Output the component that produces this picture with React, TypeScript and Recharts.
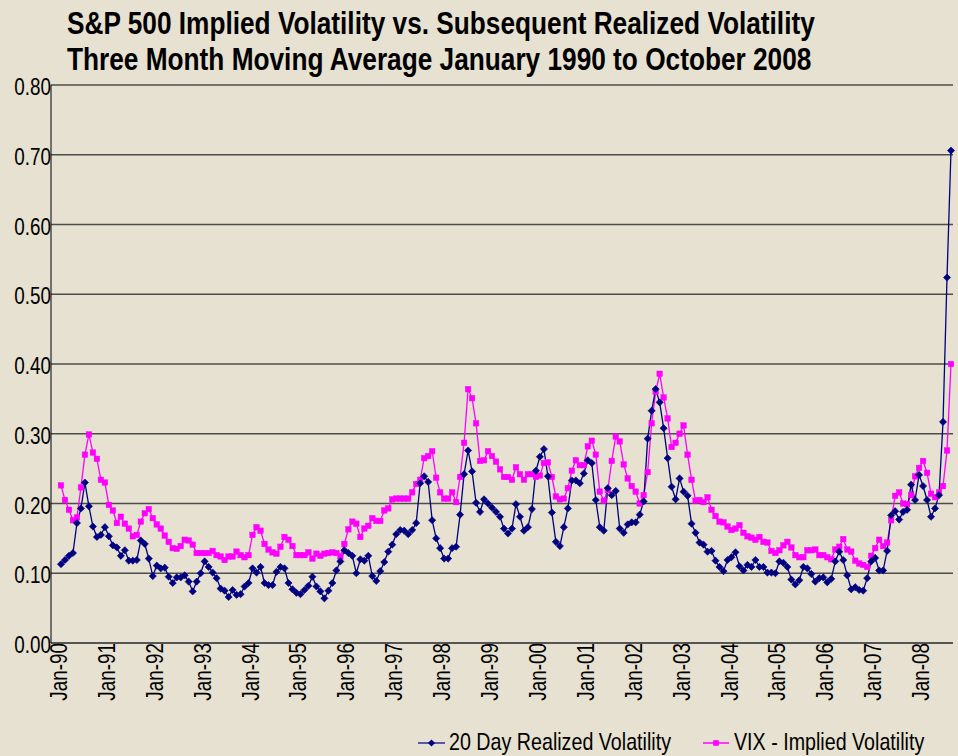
import React from 'react';
import { LineChart, Line, XAxis, YAxis, CartesianGrid } from 'recharts';

const FONT = "'Liberation Sans', Arial, sans-serif";
const NARROW = 0.82; // Liberation Sans squeezed horizontally to imitate Arial Narrow
const BG = '#E6E1D0';
const BLUE = '#000080';
const MAGENTA = '#FF00FF';

const titleLines = [
  'S&P 500 Implied Volatility vs. Subsequent Realized Volatility',
  'Three Month Moving Average January 1990 to October 2008',
];

const years = ['90', '91', '92', '93', '94', '95', '96', '97', '98', '99', '00', '01', '02', '03', '04', '05', '06', '07', '08'];
const months = ['Jan', 'Feb', 'Mar', 'Apr', 'May', 'Jun', 'Jul', 'Aug', 'Sep', 'Oct', 'Nov', 'Dec'];
const lastMonthOfFinalYear = 'Oct';

const seriesNames = ['20 Day Realized Volatility', 'VIX - Implied Volatility'];

// 20 Day Realized Volatility, three month moving average (Jan-90 .. Oct-08)
const realized: (number | null)[] = [
  null, null, 0.113, 0.119, 0.125, 0.129, 0.172, 0.193, 0.230, 0.196, 0.167, 0.152,
  0.155, 0.166, 0.153, 0.140, 0.137, 0.125, 0.133, 0.118, 0.118, 0.119, 0.147, 0.142,
  0.121, 0.096, 0.111, 0.107, 0.108, 0.095, 0.086, 0.094, 0.094, 0.097, 0.088, 0.074,
  0.088, 0.100, 0.117, 0.109, 0.101, 0.093, 0.078, 0.075, 0.066, 0.076, 0.069, 0.070,
  0.081, 0.086, 0.107, 0.101, 0.109, 0.086, 0.083, 0.083, 0.102, 0.109, 0.107, 0.086,
  0.077, 0.072, 0.070, 0.076, 0.082, 0.095, 0.081, 0.074, 0.064, 0.075, 0.086, 0.104,
  0.117, 0.133, 0.129, 0.125, 0.100, 0.120, 0.118, 0.125, 0.096, 0.089, 0.103, 0.116,
  0.131, 0.141, 0.156, 0.162, 0.161, 0.156, 0.162, 0.172, 0.229, 0.239, 0.231, 0.176,
  0.150, 0.136, 0.121, 0.121, 0.136, 0.138, 0.184, 0.242, 0.276, 0.246, 0.201, 0.188,
  0.206, 0.200, 0.194, 0.188, 0.181, 0.164, 0.157, 0.164, 0.199, 0.181, 0.161, 0.166,
  0.192, 0.247, 0.267, 0.278, 0.239, 0.187, 0.145, 0.139, 0.166, 0.193, 0.233, 0.233,
  0.229, 0.243, 0.262, 0.258, 0.205, 0.166, 0.161, 0.222, 0.212, 0.218, 0.164, 0.158,
  0.170, 0.173, 0.173, 0.184, 0.203, 0.293, 0.333, 0.364, 0.345, 0.308, 0.265, 0.224,
  0.206, 0.236, 0.217, 0.211, 0.171, 0.158, 0.144, 0.141, 0.131, 0.132, 0.118, 0.109,
  0.103, 0.119, 0.123, 0.130, 0.110, 0.104, 0.112, 0.109, 0.119, 0.109, 0.109, 0.101,
  0.101, 0.100, 0.117, 0.115, 0.109, 0.091, 0.084, 0.090, 0.109, 0.107, 0.099, 0.088,
  0.093, 0.094, 0.087, 0.092, 0.117, 0.131, 0.119, 0.097, 0.077, 0.080, 0.076, 0.075,
  0.093, 0.117, 0.122, 0.104, 0.104, 0.132, 0.183, 0.189, 0.177, 0.188, 0.191, 0.227,
  0.205, 0.241, 0.225, 0.205, 0.181, 0.193, 0.212, 0.317, 0.524, 0.706,
];

// VIX - Implied Volatility, three month moving average (Jan-90 .. Oct-08)
const implied: (number | null)[] = [
  null, null, 0.226, 0.205, 0.191, 0.176, 0.180, 0.223, 0.270, 0.299, 0.273, 0.264,
  0.234, 0.230, 0.198, 0.190, 0.172, 0.181, 0.171, 0.164, 0.153, 0.155, 0.174, 0.186,
  0.192, 0.179, 0.170, 0.164, 0.154, 0.145, 0.136, 0.135, 0.139, 0.148, 0.147, 0.141,
  0.129, 0.129, 0.129, 0.129, 0.132, 0.126, 0.124, 0.119, 0.124, 0.124, 0.131, 0.126,
  0.123, 0.126, 0.155, 0.166, 0.161, 0.142, 0.134, 0.130, 0.128, 0.138, 0.152, 0.148,
  0.139, 0.126, 0.126, 0.126, 0.130, 0.121, 0.128, 0.125, 0.128, 0.129, 0.130, 0.129,
  0.124, 0.142, 0.163, 0.174, 0.171, 0.152, 0.164, 0.168, 0.179, 0.175, 0.175, 0.190,
  0.193, 0.206, 0.207, 0.207, 0.207, 0.207, 0.216, 0.228, 0.234, 0.265, 0.268, 0.275,
  0.237, 0.216, 0.207, 0.207, 0.216, 0.202, 0.238, 0.287, 0.364, 0.351, 0.315, 0.261,
  0.262, 0.275, 0.268, 0.260, 0.249, 0.238, 0.238, 0.234, 0.252, 0.242, 0.234, 0.242,
  0.242, 0.238, 0.240, 0.258, 0.259, 0.238, 0.210, 0.206, 0.207, 0.222, 0.247, 0.262,
  0.255, 0.255, 0.282, 0.290, 0.270, 0.217, 0.204, 0.219, 0.261, 0.296, 0.289, 0.256,
  0.236, 0.225, 0.217, 0.200, 0.212, 0.245, 0.315, 0.360, 0.386, 0.352, 0.322, 0.281,
  0.287, 0.300, 0.312, 0.270, 0.234, 0.204, 0.205, 0.202, 0.209, 0.191, 0.182, 0.174,
  0.173, 0.167, 0.162, 0.164, 0.169, 0.158, 0.153, 0.151, 0.148, 0.152, 0.145, 0.144,
  0.132, 0.129, 0.133, 0.140, 0.145, 0.137, 0.126, 0.123, 0.123, 0.133, 0.133, 0.134,
  0.126, 0.126, 0.123, 0.120, 0.134, 0.138, 0.149, 0.134, 0.131, 0.118, 0.114, 0.112,
  0.109, 0.125, 0.136, 0.148, 0.139, 0.144, 0.176, 0.211, 0.216, 0.200, 0.199, 0.212,
  0.239, 0.251, 0.261, 0.244, 0.214, 0.209, 0.216, 0.225, 0.276, 0.400,
];

const yTicks = [0, 0.1, 0.2, 0.3, 0.4, 0.5, 0.6, 0.7, 0.8];

const categories: string[] = [];
years.forEach((y, yi) => {
  for (const m of months) {
    categories.push(`${m}-${y}`);
    if (yi === years.length - 1 && m === lastMonthOfFinalYear) break;
  }
});

const data = categories.map((month, i) => ({
  month,
  realized: realized[i] ?? null,
  implied: implied[i] ?? null,
}));

const DiamondDot = (props: any) => {
  const { cx, cy, index, value } = props;
  if (cx == null || cy == null || value == null || Number.isNaN(cy)) return <g key={`rd${index}`} />;
  const s = 3.6;
  return (
    <polygon
      key={`rd${index}`}
      points={`${cx},${cy - s} ${cx + s},${cy} ${cx},${cy + s} ${cx - s},${cy}`}
      fill={BLUE}
      stroke={BLUE}
      strokeWidth={0.6}
    />
  );
};

const SquareDot = (props: any) => {
  const { cx, cy, index, value } = props;
  if (cx == null || cy == null || value == null || Number.isNaN(cy)) return <g key={`id${index}`} />;
  const s = 2.8;
  return <rect key={`id${index}`} x={cx - s} y={cy - s} width={2 * s} height={2 * s} fill={MAGENTA} stroke={MAGENTA} strokeWidth={0.4} />;
};

const XTick = (props: any) => {
  const { x, y, payload } = props;
  const bx = x + 14;
  return (
    <text
      transform={`translate(${bx}, ${y}) rotate(-90) scale(${NARROW}, 1)`}
      textAnchor="end"
      fontFamily={FONT}
      fontSize={23}
      fill="#000"
    >
      {payload.value}
    </text>
  );
};

const YTick = (props: any) => {
  const { x, y, payload } = props;
  return (
    <text
      transform={`translate(${x}, ${y + 10}) scale(${NARROW}, 1)`}
      textAnchor="end"
      fontFamily={FONT}
      fontSize={23}
      fill="#000"
    >
      {Number(payload.value).toFixed(2)}
    </text>
  );
};

const NarrowText = ({ x, y, size, bold, children }: { x: number; y: number; size: number; bold?: boolean; children: React.ReactNode }) => (
  <text
    transform={`translate(${x}, ${y}) scale(${NARROW}, 1)`}
    fontFamily={FONT}
    fontWeight={bold ? 'bold' : 'normal'}
    fontSize={size}
    fill="#000"
  >
    {children}
  </text>
);

export default function App() {
  return (
    <div style={{ position: 'absolute', left: 0, top: 0, width: 958, height: 756, background: BG, overflow: 'hidden' }}>
      <LineChart
        width={958}
        height={756}
        data={data}
        margin={{ top: 85, right: 5, left: 0, bottom: 53 }}
      >
        <CartesianGrid horizontal vertical={false} stroke="#4d4d4d" strokeWidth={1.6} />
        <XAxis
          dataKey="month"
          interval={11}
          tickLine={false}
          tickSize={0}
          tickMargin={0}
          height={60}
          padding={{ left: 2, right: 2 }}
          axisLine={{ stroke: '#555', strokeWidth: 2 }}
          tick={<XTick />}
        />
        <YAxis
          type="number"
          domain={[0, 0.8]}
          ticks={yTicks}
          width={51}
          tickLine={false}
          tickSize={0}
          tickMargin={0}
          axisLine={{ stroke: '#000', strokeWidth: 1 }}
          tick={<YTick />}
          allowDataOverflow
        />
        <Line
          type="linear"
          dataKey="implied"
          name={seriesNames[1]}
          stroke={MAGENTA}
          strokeWidth={1.3}
          dot={SquareDot}
          activeDot={false}
          isAnimationActive={false}
        />
        <Line
          type="linear"
          dataKey="realized"
          name={seriesNames[0]}
          stroke={BLUE}
          strokeWidth={1.3}
          dot={DiamondDot}
          activeDot={false}
          isAnimationActive={false}
        />
      </LineChart>
      <svg
        width={958}
        height={756}
        style={{ position: 'absolute', left: 0, top: 0, pointerEvents: 'none' }}
      >
        <NarrowText x={67} y={34} size={32} bold>{titleLines[0]}</NarrowText>
        <NarrowText x={67} y={70} size={32} bold>{titleLines[1]}</NarrowText>
        <g>
          <line x1={418} y1={743} x2={445} y2={743} stroke="#2a2aa0" strokeWidth={1.5} />
          <polygon points="431.5,739.4 435.1,743 431.5,746.6 427.9,743" fill={BLUE} />
          <NarrowText x={449} y={750} size={24}>{seriesNames[0]}</NarrowText>
          <line x1={703} y1={743} x2={729} y2={743} stroke={MAGENTA} strokeWidth={1.5} />
          <rect x={713.2} y={740.2} width={5.6} height={5.6} fill={MAGENTA} />
          <NarrowText x={734} y={750} size={24}>{seriesNames[1]}</NarrowText>
        </g>
      </svg>
    </div>
  );
}
